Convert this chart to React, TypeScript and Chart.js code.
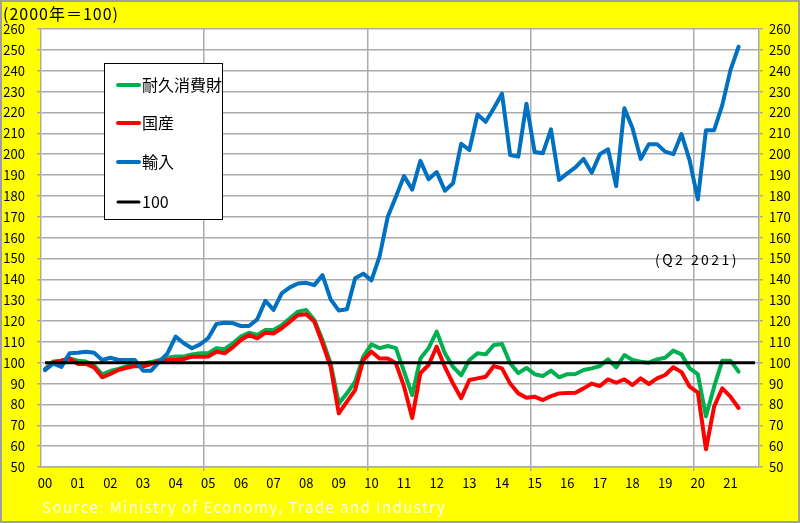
import { useEffect, useRef } from 'react';
import { Chart, registerables } from 'chart.js';

Chart.register(...registerables);

// Year labels (each year has 4 quarters on the axis)
const yearLabels = ['00', '01', '02', '03', '04', '05', '06', '07', '08', '09', '10',
  '11', '12', '13', '14', '15', '16', '17', '18', '19', '20', '21'];

// Quarterly index, 2000 Q1 .. 2021 Q2 (2000 = 100)
const durableGoods = [
  97, 100.6, 101, 102,
  101, 100.6, 98.8, 94.4,
  96, 97, 98.3, 99,
  99.6, 100.3, 101.3, 102.4,
  103, 103, 104, 104.5,
  104.5, 106.9, 106.5, 109.3,
  112.5, 114.4, 113.3, 115.7,
  115.7, 118, 121.3, 124.5,
  125.3, 120.5, 110.9, 99.7,
  80.5, 85.3, 90.9, 102.9,
  108.8, 107, 108, 107,
  95.7, 84.5, 102, 107,
  114.9, 104.5, 98, 94,
  101.3, 104.5, 104, 108.5,
  109, 99.7, 95, 97.5,
  94.5, 93.6, 96.2, 93,
  94.5, 94.6, 96.5, 97.3,
  98.4, 101.6, 97.8, 103.7,
  101.3, 100.5, 100, 101.6,
  102.4, 105.8, 104, 97.3,
  94.5, 74.3, 88.5, 101,
  101, 95.7,
];

const domestic = [
  96.5, 100, 101, 102.1,
  99.4, 99.4, 97.8, 93,
  94.6, 96.5, 97.6, 98.4,
  98.2, 99.4, 100.8, 101.3,
  101.3, 101.8, 102.9, 102.8,
  103, 105.3, 104.5, 107.4,
  110.9, 113.3, 111.7, 114.4,
  114, 116.5, 119.7, 122.9,
  123.2, 119.7, 109.3, 98,
  75.7, 81.3, 86.9, 101.3,
  105.3, 102, 102, 99.7,
  88.5, 73.5, 95, 98.9,
  107.7, 98, 90, 83,
  91.7, 92.5, 93.3, 98.4,
  97.3, 90, 85.3, 83.2,
  83.7, 82.1, 84, 85.3,
  85.5, 85.6, 87.7, 90,
  88.8, 92, 90.4, 92,
  89.3, 92.5, 89.8, 92.5,
  94.1, 97.8, 95.5, 88.5,
  85.8, 58.5, 79, 87.7,
  83.7, 78.3,
];

const imports = [
  96.5, 99.5, 98, 104.5,
  104.8, 105.3, 104.8, 101.3,
  102.4, 101.3, 101.3, 101.3,
  96.2, 96.2, 100.5, 104.5,
  112.5, 109.3, 106.9, 108.8,
  111.8, 118.6, 119.2, 119,
  117.6, 117.6, 120.8, 129.7,
  125.3, 133.3, 136.1, 138,
  138.3, 137.2, 142, 130.4,
  125, 125.6, 140.5, 142.7,
  139.5, 151, 170, 179.6,
  189.5, 183, 196.8, 188,
  191.4, 182.5, 186, 205,
  202, 219, 215.5, 222,
  229, 199.6, 198.8, 224.2,
  201, 200.4, 211.9, 187.6,
  190.8, 193.7, 197.7, 191.1,
  200, 202.3, 184.7, 222,
  212.4, 197.7, 204.8, 204.8,
  201.2, 200, 209.6, 197,
  178.3, 211.5, 211.5, 223.5,
  240.3, 251.5,
];

const baseLevel = 100;

const seriesNames = ['耐久消費財', '国産', '輸入', '100'];
const seriesColors = ['#00B050', '#FF0000', '#0070C0', '#000000'];

const yMin = 50;
const yMax = 260;
const yStep = 10;

const titleText = '(2000年＝100)';
const sourceText = 'Source: Ministry of Economy, Trade and Industry';
const noteText = '(Q2 2021)';

const FONT = "'Noto Sans CJK JP', 'Noto Sans', sans-serif";

function fittedText(c: CanvasRenderingContext2D, text: string, x: number, y: number, width: number, size: number, color: string) {
  c.save();
  c.font = `${size}px ${FONT}`;
  c.fillStyle = color;
  c.textAlign = 'left';
  c.textBaseline = 'middle';
  (c as any).letterSpacing = '0px';
  const w = c.measureText(text).width;
  const ls = (width - w) / Math.max(1, text.length);
  (c as any).letterSpacing = `${ls}px`;
  c.fillText(text, x, y);
  c.restore();
}

export default function App() {
  const ref = useRef<HTMLCanvasElement>(null);

  useEffect(() => {
    const canvas = ref.current;
    if (!canvas) return;
    const nQ = yearLabels.length * 4;
    const toPts = (arr: number[]) => arr.map((v, i) => ({ x: i, y: v }));

    const bgPlugin = {
      id: 'bg',
      beforeDraw(chart: any) {
        const c = chart.ctx as CanvasRenderingContext2D;
        const a = chart.chartArea;
        c.save();
        c.fillStyle = '#FFFF00';
        c.fillRect(0, 0, chart.width, chart.height);
        c.fillStyle = '#FFFFFF';
        c.fillRect(a.left, a.top, a.right - a.left, a.bottom - a.top);
        c.strokeStyle = '#A0A0A0';
        c.lineWidth = 2;
        c.strokeRect(1, 1, chart.width - 2, chart.height - 2);
        c.restore();
      },
      afterDraw(chart: any) {
        const c = chart.ctx as CanvasRenderingContext2D;
        // texts
        fittedText(c, titleText, 3, 14, 116, 16, '#000000');
        fittedText(c, sourceText, 42, 507, 404, 15, '#FFFFF0');
        fittedText(c, noteText, 655, 260, 84, 14, '#000000');
        // legend box
        c.save();
        c.fillStyle = '#FFFFFF';
        c.fillRect(104, 63, 119, 157);
        c.strokeStyle = '#000000';
        c.lineWidth = 1;
        c.strokeRect(104.5, 63.5, 118, 156);
        const rows = [85, 123, 162, 202];
        seriesNames.forEach((name, i) => {
          const y = rows[i];
          c.strokeStyle = seriesColors[i];
          c.lineWidth = i === 3 ? 3 : 4;
          c.lineCap = 'round';
          c.beginPath();
          c.moveTo(118, y);
          c.lineTo(139, y);
          c.stroke();
          c.fillStyle = '#000000';
          c.font = `16px ${FONT}`;
          c.textAlign = 'left';
          c.textBaseline = 'middle';
          c.fillText(name, 142, y);
        });
        c.restore();
      },
    };

    const labelTicks = yearLabels.map((_, i) => i * 4);
    const gridTicks = [19.5, 39.5, 59.5, 79.5];
    const gray = '#ABABAB';

    const chart = new Chart(canvas, {
      type: 'line',
      data: {
        datasets: [
          {
            label: seriesNames[3],
            data: [{ x: 0, y: baseLevel }, { x: nQ - 1, y: baseLevel }],
            borderColor: seriesColors[3],
            borderWidth: 3,
            pointRadius: 0,
            order: 0,
          },
          {
            label: seriesNames[2],
            data: toPts(imports),
            borderColor: seriesColors[2],
            borderWidth: 4,
            pointRadius: 0,
            borderJoinStyle: 'round',
            borderCapStyle: 'round',
            order: 1,
          },
          {
            label: seriesNames[1],
            data: toPts(domestic),
            borderColor: seriesColors[1],
            borderWidth: 4,
            pointRadius: 0,
            borderJoinStyle: 'round',
            borderCapStyle: 'round',
            order: 2,
          },
          {
            label: seriesNames[0],
            data: toPts(durableGoods),
            borderColor: seriesColors[0],
            borderWidth: 4,
            pointRadius: 0,
            borderJoinStyle: 'round',
            borderCapStyle: 'round',
            order: 3,
          },
        ],
      },
      options: {
        animation: false,
        responsive: false,
        devicePixelRatio: 1,
        layout: { padding: { top: 29, left: 0, right: 0, bottom: 0 } },
        plugins: { legend: { display: false }, tooltip: { enabled: false } },
        elements: { line: { tension: 0 } },
        scales: {
          x: {
            type: 'linear',
            min: -0.5,
            max: nQ - 0.5,
            afterBuildTicks(scale: any) {
              const vals = [...labelTicks, ...gridTicks].sort((a, b) => a - b);
              scale.ticks = vals.map((v) => ({ value: v }));
            },
            afterFit(scale: any) {
              scale.height = 56;
              scale.paddingLeft = 0;
              scale.paddingRight = 0;
            },
            ticks: {
              autoSkip: false,
              maxRotation: 0,
              minRotation: 0,
              padding: 4,
              color: '#000000',
              font: { family: FONT, size: 13 },
              callback(value: any) {
                const v = Number(value);
                if (Number.isInteger(v) && v % 4 === 0) return yearLabels[v / 4];
                return '';
              },
            },
            grid: {
              color: (ctx: any) => (ctx.tick && !Number.isInteger(ctx.tick.value) ? gray : 'rgba(0,0,0,0)'),
              tickColor: (ctx: any) => (ctx.tick && !Number.isInteger(ctx.tick.value) ? gray : 'rgba(0,0,0,0)'),
              lineWidth: 1.5,
              tickLength: 4,
            },
            border: { color: gray, width: 1.5 },
          },
          y: {
            type: 'linear',
            position: 'left',
            min: yMin,
            max: yMax,
            ticks: {
              stepSize: yStep,
              padding: 12,
              color: '#000000',
              font: { family: FONT, size: 13 },
            },
            grid: { color: gray, lineWidth: 1.5, tickLength: 4, tickColor: gray },
            border: { color: gray, width: 1.5 },
            afterFit(scale: any) {
              scale.width = 41;
              scale.paddingTop = 0;
              scale.paddingBottom = 0;
            },
          },
          y2: {
            type: 'linear',
            position: 'right',
            min: yMin,
            max: yMax,
            ticks: {
              stepSize: yStep,
              padding: 6,
              color: '#000000',
              font: { family: FONT, size: 13 },
            },
            grid: { drawOnChartArea: false, tickLength: 4, tickColor: gray, lineWidth: 1.5 },
            border: { color: gray, width: 1.5 },
            afterFit(scale: any) {
              scale.width = 41;
              scale.paddingTop = 0;
              scale.paddingBottom = 0;
            },
          },
        },
      } as any,
      plugins: [bgPlugin],
    });

    return () => chart.destroy();
  }, []);

  return (
    <div style={{ position: 'fixed', left: 0, top: 0, width: 800, height: 523 }}>
      <canvas ref={ref} width={800} height={523} style={{ display: 'block', width: 800, height: 523 }} />
    </div>
  );
}
